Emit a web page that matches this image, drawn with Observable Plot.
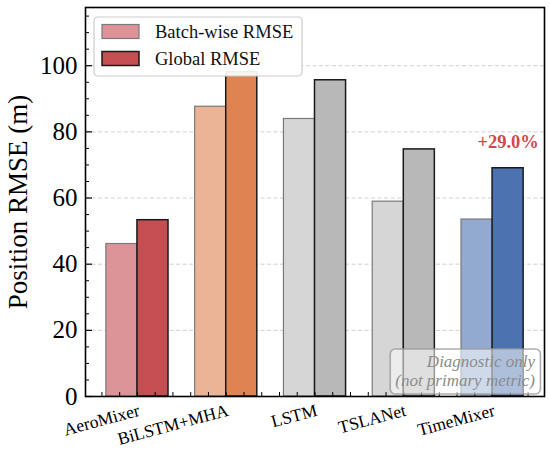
<!DOCTYPE html>
<html><head><meta charset="utf-8">
<script src="https://cdn.jsdelivr.net/npm/d3@7"></script>
<script src="https://cdn.jsdelivr.net/npm/@observablehq/plot@0.6"></script>
<style>body{margin:0;background:#fff} svg{display:block}</style>
</head><body><div id="chart"></div>
<script>
// ---- data ----
const models = ["AeroMixer", "BiLSTM+MHA", "LSTM", "TSLANet", "TimeMixer"];
const batchRMSE = [46.1, 87.6, 83.9, 58.9, 53.5];
const globalRMSE = [53.3, 98.0, 95.6, 74.7, 69.0];
const batchColors = ["#dc9499", "#ebb496", "#d6d6d6", "#d6d6d6", "#93aad0"];
const globalColors = ["#c44e52", "#dd8452", "#b8b8b8", "#b8b8b8", "#4c72b0"];
const seriesNames = ["Batch-wise RMSE", "Global RMSE"];
const yMajorTicks = [0, 20, 40, 60, 80, 100];
const yLabel = "Position RMSE (m)";
const annotationText = "+29.0%";
const annotatedModel = "TimeMixer";
const noteLines = ["Diagnostic only", "(not primary metric)"];

// ---- layout ----
const W = 550, H = 453;
const mL = 85, mR = 6, mT = 7, mB = 57;
const frameW = W - mL - mR, frameH = H - mT - mB;
const barW = 0.35;
const n = models.length;
const span = (n - 1) + 2 * barW;
const xDomain = [-barW - 0.05 * span, (n - 1) + barW + 0.05 * span];
const yMax = 1.2 * d3.max(globalRMSE);
const serif = "Liberation Serif, DejaVu Serif, serif";

const batchRows = models.map((m, i) => ({model: m, i, value: batchRMSE[i], fill: batchColors[i]}));
const globalRows = models.map((m, i) => ({model: m, i, value: globalRMSE[i], fill: globalColors[i]}));
const yMinor = d3.range(5, yMax, 5).filter(v => v % 20 !== 0);
const yMajor = yMajorTicks;
const xMinor = d3.range(-0.4, xDomain[1], 0.2);
const annRow = globalRows.filter(d => d.model === annotatedModel);

const plot = Plot.plot({
  width: W, height: H,
  marginLeft: mL, marginRight: mR, marginTop: mT, marginBottom: mB,
  style: {fontFamily: serif, background: "white", color: "black"},
  x: {type: "linear", domain: xDomain},
  y: {domain: [0, yMax]},
  marks: [
    Plot.ruleY(yMajor.filter(v => v > 0), {stroke: "#d0d0d0", strokeDasharray: "4,2.5", strokeWidth: 1}),
    Plot.rectY(batchRows, {x1: d => d.i - barW, x2: d => d.i, y1: 0, y2: "value", fill: d => d.fill, stroke: "#7a7a7a", strokeWidth: 1.2}),
    Plot.rectY(globalRows, {x1: d => d.i, x2: d => d.i + barW, y1: 0, y2: "value", fill: d => d.fill, stroke: "#1a1a1a", strokeWidth: 1.5}),
    Plot.tickY(yMajor, {y: d => d, insetRight: frameW - 7, stroke: "black", strokeWidth: 1.2}),
    Plot.tickY(yMinor, {y: d => d, insetRight: frameW - 4, stroke: "black", strokeWidth: 1}),
    Plot.tickX(xMinor, {x: d => d, insetTop: frameH - 4, stroke: "black", strokeWidth: 1}),
    Plot.frame({stroke: "black", strokeWidth: 1.6}),
    Plot.axisY({ticks: yMajor, tickSize: 0, tickPadding: 8, fontSize: 25, fontFamily: serif, label: null}),
    Plot.axisX({ticks: d3.range(n), tickFormat: i => models[i], tickSize: 0, tickPadding: 7,
      tickRotate: -15, textAnchor: "end", lineAnchor: "top", fontSize: 17.5, fontFamily: serif, label: null}),
    Plot.text([yLabel], {frameAnchor: "left", textAnchor: "middle", rotate: -90, dx: -67, fontSize: 27,
      fontFamily: serif, fill: "black"}),
    Plot.text(annRow, {x: d => d.i + barW / 2, y: "value", text: () => annotationText, dy: -26,
      fill: "#d0474d", fontWeight: "bold", fontSize: 18.5, fontFamily: serif, lineAnchor: "middle"})
  ]
});

document.getElementById("chart").appendChild(plot);
const svg = d3.select(plot);

// ---- legend (top-left inside frame) ----
const lg = svg.append("g").attr("transform", `translate(${mL + 9},${mT + 10})`);
lg.append("rect").attr("x", 0).attr("y", 0).attr("width", 208).attr("height", 59)
  .attr("rx", 4).attr("fill", "white").attr("fill-opacity", 0.92)
  .attr("stroke", "#cccccc").attr("stroke-width", 1.2);
seriesNames.forEach((name, k) => {
  const yy = 7.5 + k * 27;
  lg.append("rect").attr("x", 8).attr("y", yy).attr("width", 37).attr("height", 14)
    .attr("fill", k === 0 ? batchColors[0] : globalColors[0])
    .attr("stroke", k === 0 ? "#7a7a7a" : "#1a1a1a").attr("stroke-width", k === 0 ? 1.2 : 1.5);
  lg.append("text").attr("x", 61).attr("y", yy + 13.5).text(name)
    .attr("text-anchor", "start")
    .attr("font-family", serif).attr("font-size", 18.5).attr("fill", "#111");
});

// ---- note box (bottom-right inside frame) ----
const ng = svg.append("g");
const rightX = mL + frameW - 9;
const lineH = 19;
const baseY = mT + frameH - 10;
const texts = noteLines.map((t, k) => ng.append("text")
  .attr("x", rightX).attr("y", baseY - (noteLines.length - 1 - k) * lineH)
  .attr("text-anchor", "end").attr("font-family", serif).attr("font-style", "italic")
  .attr("font-size", 17).attr("fill", "#8c8c8c").text(t));
let bb = null;
texts.forEach(t => {
  const b = t.node().getBBox();
  if (!bb) bb = {x0: b.x, y0: b.y, x1: b.x + b.width, y1: b.y + b.height};
  else { bb.x0 = Math.min(bb.x0, b.x); bb.y0 = Math.min(bb.y0, b.y); bb.x1 = Math.max(bb.x1, b.x + b.width); bb.y1 = Math.max(bb.y1, b.y + b.height); }
});
const pad = 5;
ng.insert("rect", "text").attr("x", bb.x0 - pad).attr("y", bb.y0 - pad + 2)
  .attr("width", bb.x1 - bb.x0 + 2 * pad).attr("height", bb.y1 - bb.y0 + 2 * pad - 3)
  .attr("rx", 5).attr("fill", "white").attr("fill-opacity", 0.55)
  .attr("stroke", "#9a9a9a").attr("stroke-opacity", 0.8).attr("stroke-width", 1.6);
</script>
</body></html>
